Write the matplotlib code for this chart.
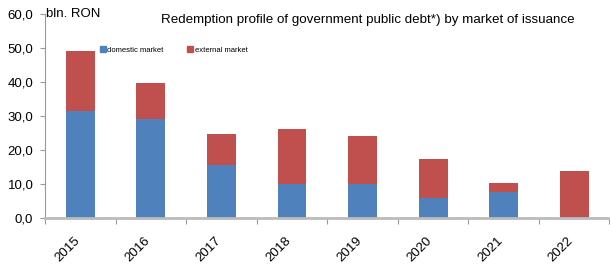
import numpy as np
import matplotlib
matplotlib.use('Agg')
import matplotlib.pyplot as plt
import matplotlib.transforms as mtransforms
from matplotlib.patches import Patch

plt.rcParams['font.family'] = ['Liberation Sans', 'DejaVu Sans']

years = ['2015', '2016', '2017', '2018', '2019', '2020', '2021', '2022']
domestic = [31.4, 29.0, 15.5, 10.0, 10.0, 5.9, 7.6, 0.3]
external = [17.6, 10.6, 9.1, 16.1, 14.0, 11.4, 2.6, 13.4]
y_ticks = [0, 10, 20, 30, 40, 50, 60]

blue = '#4F81BD'
red = '#C0504D'

fig = plt.figure(figsize=(6.1, 2.7), dpi=100)
ax = fig.add_axes([0.074, 0.194, 0.925, 0.755])

x = np.arange(len(years))
ax.bar(x, domestic, width=0.41, color=blue, label='domestic market')
ax.bar(x, external, width=0.41, bottom=domestic, color=red, label='external market')

ax.set_xlim(-0.5, len(years) - 0.5)
ax.set_ylim(0, 60)

# y axis
ax.set_yticks(y_ticks)
ax.set_yticklabels([f'{v:.1f}'.replace('.', ',') for v in y_ticks], fontsize=9.5)
ax.tick_params(axis='y', length=3.5, color='#999999', pad=5)

# x axis: ticks at category boundaries, labels at centres
ax.set_xticks(np.arange(len(years) + 1) - 0.5)
ax.set_xticklabels([])
ax.tick_params(axis='x', which='major', length=4, color='#999999')
ax.set_xticks(x, minor=True)
ax.set_xticklabels(years, minor=True, rotation=45, ha='right',
                   rotation_mode='anchor', fontsize=9.5)
ax.tick_params(axis='x', which='minor', length=0, pad=12)
shift = mtransforms.ScaledTranslation(-7 / 100, 0, fig.dpi_scale_trans)
for lab in ax.get_xticklabels(minor=True):
    lab.set_transform(lab.get_transform() + shift)

for s in ['top', 'right']:
    ax.spines[s].set_visible(False)
ax.spines['left'].set_color('#999999')
ax.spines['bottom'].set_color('#bbbbbb')
ax.spines['bottom'].set_linewidth(2)

ax.text(0.002, 60, 'bln. RON', fontsize=9.5, ha='left', va='center',
        transform=ax.get_yaxis_transform())

fig.text(0.603, 0.926, 'Redemption profile of government public debt*) by market of issuance',
         fontsize=9.6, ha='center', va='center')

handles = [Patch(color=blue, label='domestic market'),
           Patch(color=red, label='external market')]
ax.legend(handles=handles, loc='upper left', bbox_to_anchor=(0.0975, 0.84),
          ncol=2, frameon=False, fontsize=5.5, handlelength=0.7, handleheight=0.7,
          handletextpad=0.25, columnspacing=3.1, borderaxespad=0, borderpad=0)

fig.savefig('out.png', dpi=100)
